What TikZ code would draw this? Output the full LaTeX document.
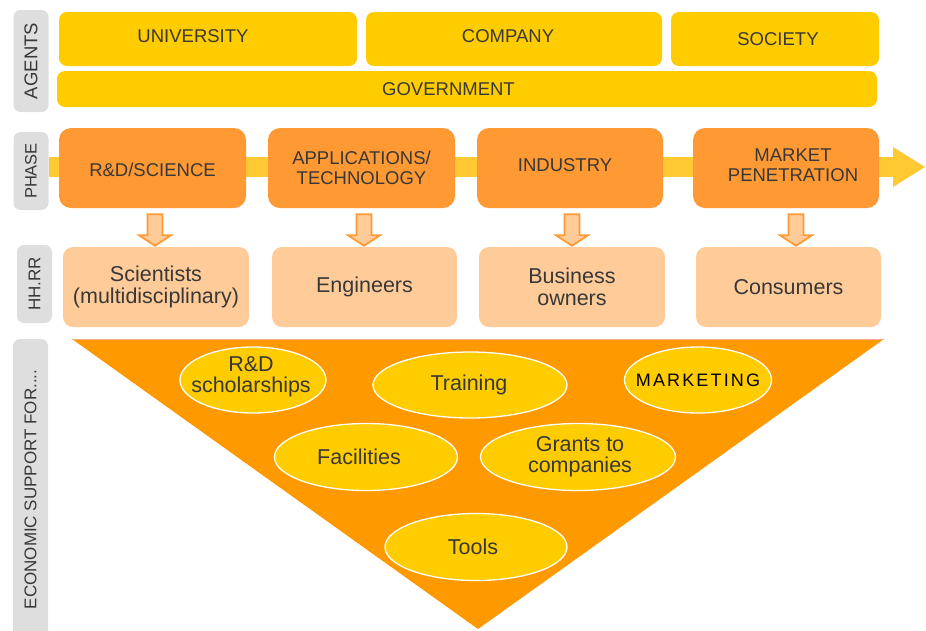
\documentclass[tikz,border=0pt]{standalone}
\usepackage{fontspec}
\setmainfont{Liberation Sans}
\newfontfamily\spacedfont{Liberation Sans}[LetterSpace=12]
\usetikzlibrary{shapes.geometric,calc}

\definecolor{agentyellow}{HTML}{FFCC00}
\definecolor{bandyellow}{HTML}{FFC933}
\definecolor{phaseorange}{HTML}{FF9933}
\definecolor{peach}{HTML}{FFCC99}
\definecolor{triorange}{HTML}{FF9900}
\definecolor{triedge}{HTML}{FFAE8C}
\definecolor{labelgray}{HTML}{DEDEDE}
\definecolor{ink}{HTML}{383838}

\newcommand\fsz[2]{\fontsize{#1}{#2}\selectfont}

\tikzset{
  agent/.style={fill=agentyellow, rounded corners=8pt, inner sep=0pt},
  agenttext/.style={font=\fsz{18.5}{20}, text=ink, inner sep=0pt},
  phasebox/.style={fill=phaseorange, rounded corners=12pt, minimum width=187pt,
    minimum height=80pt, inner sep=0pt},
  phasetext/.style={align=center, font=\fsz{18.5}{20}, text=ink, inner sep=0pt},
  hrbox/.style={fill=peach, rounded corners=10pt, minimum width=186pt,
    minimum height=80pt, inner sep=0pt, align=center, font=\fsz{21.5}{22}, text=ink},
  sidelabel/.style={fill=labelgray, rounded corners=7pt, rotate=90,
    minimum height=35pt, inner sep=0pt, text=ink},
  support/.style={ellipse, fill=agentyellow, draw=white, line width=1.3pt, inner sep=0pt},
  supporttext/.style={align=center, font=\fsz{21.5}{21}, text=ink, inner sep=0pt},
  downarrow/.style={fill=peach, draw=phaseorange, line width=1.8pt, line join=miter},
}

\begin{document}
\begin{tikzpicture}[x=1pt, y=-1pt]
\useasboundingbox (0,0) rectangle (926,630);

% row labels
\node[sidelabel, minimum width=102pt, font=\fsz{18.5}{20}] (lagents) at (31,61) {AGENTS};
\node[sidelabel, minimum width=78pt, font=\fsz{16.5}{18}] (lphase) at (31,171) {PHASE};
\node[sidelabel, minimum width=78pt, font=\fsz{17}{18}] (lhr) at (34.5,284) {HH.RR};
\node[sidelabel, minimum width=301pt, font=\fsz{17}{18}] (lecon) at (30.5,489.5) {ECONOMIC SUPPORT FOR....};

% agents
\node[agent, minimum width=298pt, minimum height=54pt,
  label={[agenttext, xshift=-15pt, yshift=3pt]center:UNIVERSITY}] (univ) at (208,39) {};
\node[agent, minimum width=296pt, minimum height=54pt,
  label={[agenttext, xshift=-6pt, yshift=3pt]center:COMPANY}] (comp) at (514,39) {};
\node[agent, minimum width=208pt, minimum height=54pt,
  label={[agenttext, xshift=3pt]center:SOCIETY}] (soc) at (775,39) {};
\node[agent, minimum width=820pt, minimum height=36pt,
  label={[agenttext, xshift=-18.5pt]center:GOVERNMENT}] (gov) at (467,89) {};

% phase band with its arrow head
\fill[bandyellow] (49,157) rectangle (893,177);
\fill[bandyellow] (893,147) -- (925,167) -- (893,187) -- cycle;

% phases
\node[phasebox, label={[phasetext, yshift=-1.5pt]center:R\&D/SCIENCE}] (rd) at (152.5,168) {};
\node[phasebox, label={[phasetext]center:APPLICATIONS/\\TECHNOLOGY}] (app) at (361.5,168) {};
\node[phasebox, minimum width=186pt,
  label={[phasetext, xshift=-5pt, yshift=2.5pt]center:INDUSTRY}] (ind) at (570,168) {};
\node[phasebox, minimum width=186pt,
  label={[phasetext, xshift=7pt, yshift=3pt]center:MARKET\\PENETRATION}] (mkt) at (786,168) {};

% human resources
\node[hrbox] (sci) at (156,287) {Scientists\\(multidisciplinary)};
\node[hrbox, minimum width=185pt] (eng) at (364.5,287) {Engineers};
\node[hrbox] (bus) at (572,287) {Business\\owners};
\node[hrbox, minimum width=185pt] (con) at (788.5,287) {Consumers};

% block arrows from each phase down to its people
\foreach \a/\b/\dx in {rd/sci/2.5, app/eng/2.5, ind/bus/2, mkt/con/10} {
  \path (\a.south) ++(\dx,6) coordinate (s);
  \draw[downarrow] ($(s)+(-7.5,0)$) -- ($(s)+(-7.5,21)$) -- ($(s)+(-16,21)$)
    -- ($(s |- \b.north)+(0,-1)$) -- ($(s)+(16,21)$) -- ($(s)+(7.5,21)$)
    -- ($(s)+(7.5,0)$) -- cycle;
}

% economic support funnel
\fill[triorange] (72,339) -- (884,339) -- (478,629) -- cycle;
\draw[triedge, line width=0.8pt] (72,339) -- (884,339);

\node[support, minimum width=146pt, minimum height=66pt,
  label={[supporttext, xshift=-2pt, yshift=3pt]center:R\&D\\scholarships}] (schol) at (253,380) {};
\node[support, minimum width=194pt, minimum height=66pt,
  label={[supporttext, xshift=-1pt]center:Training}] (train) at (470,385) {};
\node[support, minimum width=147pt, minimum height=66pt,
  label={[inner sep=0pt, text=black, font=\spacedfont\fsz{18}{20}]center:MARKETING}] (mkting) at (698,380) {};
\node[support, minimum width=183pt, minimum height=67pt,
  label={[supporttext, xshift=-7pt]center:Facilities}] (fac) at (366,457) {};
\node[support, minimum width=195pt, minimum height=67pt,
  label={[supporttext, xshift=2pt]center:Grants to\\companies}] (grants) at (578,457) {};
\node[support, minimum width=182pt, minimum height=67pt,
  label={[supporttext, xshift=-3pt]center:Tools}] (tools) at (476,547) {};
\end{tikzpicture}
\end{document}
